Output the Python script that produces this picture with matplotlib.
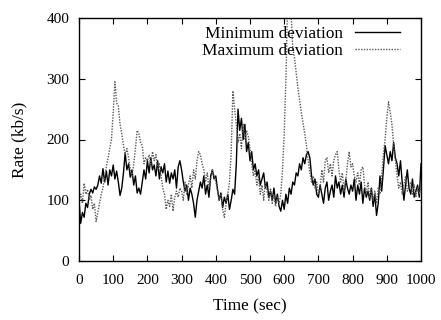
import numpy as np
import matplotlib
matplotlib.use('Agg')
import matplotlib.pyplot as plt

plt.rcParams['font.family'] = ['Liberation Serif', 'DejaVu Serif']

# time axis, one reading every 5 s
t = np.arange(0, 1001, 5)

# rate (kb/s), rows of 100 s
min_dev = [
    100, 62, 80, 72, 95, 88, 110, 118, 112, 122, 118, 125, 140, 128, 152, 130, 148, 125, 150, 140,
    158, 135, 148, 130, 108, 120, 145, 178, 150, 160, 138, 150, 125, 140, 112, 120, 110, 130, 150, 135,
    165, 145, 170, 150, 158, 140, 165, 135, 155, 145, 160, 130, 148, 128, 145, 135, 150, 120, 155, 165,
    150, 130, 115, 125, 100, 120, 110, 95, 72, 100, 115, 130, 120, 140, 110, 125, 105, 140, 150, 135,
    140, 118, 100, 112, 88, 105, 95, 110, 85, 100, 118, 110, 160, 250, 215, 235, 200, 225, 180, 195,
    165, 180, 150, 160, 140, 150, 125, 135, 145, 120, 130, 105, 115, 100, 120, 95, 110, 90, 82, 100,
    85, 110, 95, 120, 110, 130, 125, 145, 140, 160, 150, 170, 160, 175, 180, 170, 140, 125, 135, 110,
    105, 125, 110, 95, 120, 130, 100, 115, 125, 105, 140, 120, 130, 110, 125, 105, 135, 120, 110, 125,
    115, 135, 100, 125, 110, 130, 95, 120, 105, 115, 100, 120, 90, 110, 75, 95, 140, 115, 150, 190,
    175, 160, 180, 165, 195, 170, 160, 140, 165, 130, 100, 125, 150, 120, 110, 135, 105, 115, 125, 105,
    160,
]

max_dev = [
    100, 110, 95, 128, 110, 118, 100, 108, 85, 95, 65, 80, 95, 110, 120, 140, 155, 170, 185, 200,
    245, 295, 260, 255, 225, 210, 190, 175, 185, 170, 150, 140, 160, 185, 215, 210, 195, 190, 160, 170,
    165, 175, 160, 180, 165, 175, 150, 160, 140, 120, 110, 85, 100, 90, 110, 82, 105, 115, 105, 120,
    115, 100, 130, 110, 125, 140, 120, 150, 135, 165, 180, 175, 160, 150, 130, 145, 120, 135, 150, 140,
    130, 115, 100, 110, 85, 72, 95, 110, 130, 180, 280, 250, 225, 195, 210, 185, 225, 200, 215, 205,
    185, 160, 140, 150, 125, 140, 110, 125, 100, 130, 115, 100, 120, 95, 110, 90, 105, 95, 110, 150,
    210, 300, 425, 440, 410, 350, 335, 310, 285, 265, 245, 228, 210, 190, 165, 145, 130, 140, 120, 130,
    110, 120, 150, 130, 165, 170, 145, 160, 140, 165, 175, 180, 150, 130, 145, 115, 130, 160, 180, 155,
    160, 140, 130, 145, 125, 150, 155, 125, 110, 130, 105, 120, 100, 115, 95, 120, 110, 140, 175, 200,
    235, 262, 245, 225, 190, 165, 140, 120, 130, 110, 125, 140, 115, 120, 130, 110, 125, 105, 120, 110,
    125,
]

fig = plt.figure(figsize=(4.41, 3.2), dpi=100)
ax = fig.add_axes([79 / 441, 1 - 261 / 320, 342 / 441, 243 / 320])

ax.plot(t, min_dev, color='black', lw=1.0, label='Minimum deviation')
ax.plot(t, max_dev, color='0.35', lw=1.0, linestyle=(0, (1, 1)), label='Maximum deviation')

ax.set_xlim(0, 1000)
ax.set_ylim(0, 400)
ax.set_xticks(np.arange(0, 1001, 100))
ax.set_yticks(np.arange(0, 401, 100))
ax.tick_params(direction='in', top=True, right=True, length=4, width=0.8,
               labelsize=11)
ax.tick_params(axis='x', pad=9.5)
ax.tick_params(axis='y', pad=7)
for s in ax.spines.values():
    s.set_linewidth(1.0)

ax.set_xlabel('Time (sec)', fontsize=12.4, labelpad=8)
ax.set_ylabel('Rate (kb/s)', fontsize=12.4, labelpad=14)

ax.legend(loc='upper right', bbox_to_anchor=(0.9386, 0.968), frameon=False,
          markerfirst=False, fontsize=12.4, borderpad=0, borderaxespad=0,
          handlelength=2.6, handletextpad=0.7, labelspacing=0.05)

fig.savefig('out.png', dpi=100)
